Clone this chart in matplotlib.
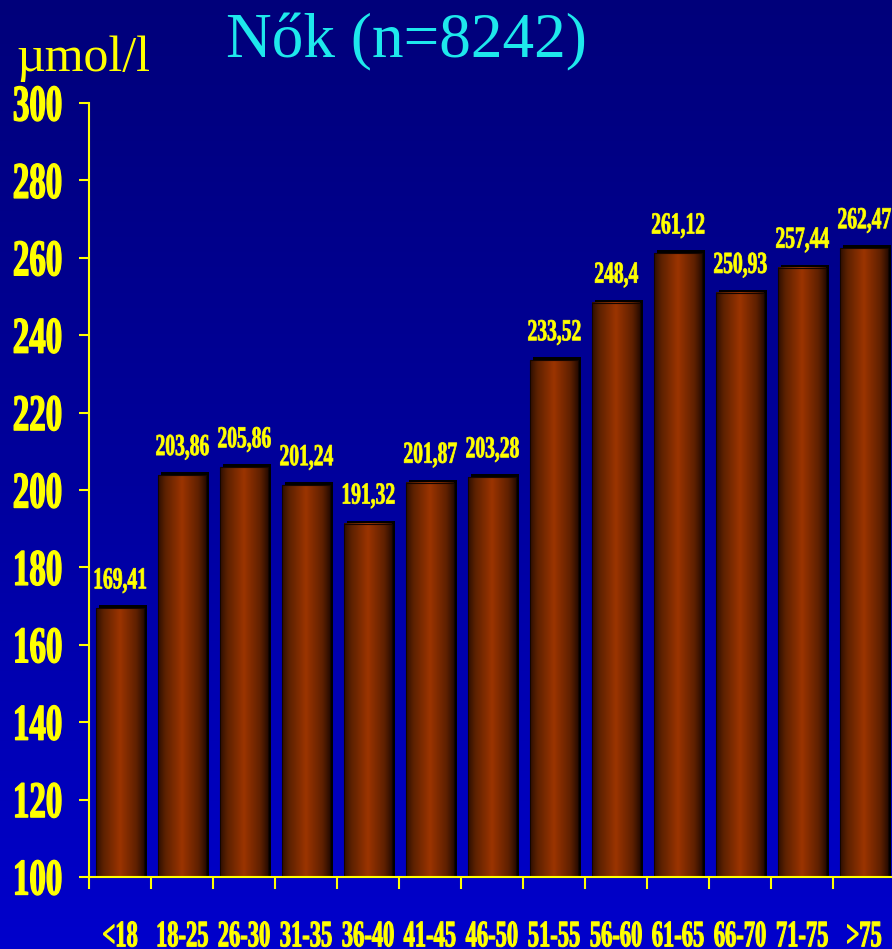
import numpy as np
import matplotlib
matplotlib.use("Agg")
import matplotlib.pyplot as plt
from matplotlib.colors import LinearSegmentedColormap
from matplotlib.patheffects import AbstractPathEffect
from matplotlib.transforms import Affine2D, Bbox, offset_copy
from matplotlib.path import Path
from matplotlib.ticker import FixedLocator, NullFormatter

# ---- data -------------------------------------------------------------
age_groups = ['<18', '18-25', '26-30', '31-35', '36-40', '41-45', '46-50',
              '51-55', '56-60', '61-65', '66-70', '71-75', '>75']
values = [169.41, 203.86, 205.86, 201.24, 191.32, 201.87, 203.28,
          233.52, 248.4, 261.12, 250.93, 257.44, 262.47]
value_labels = [f'{v:g}'.replace('.', ',') for v in values]
y_ticks = list(range(100, 301, 20))
title = 'Nők (n=8242)'
unit = 'µmol/l'

plt.rcParams['font.family'] = ['Liberation Serif', 'DejaVu Serif']


class Condensed(AbstractPathEffect):
    """Squeeze text glyphs horizontally and thicken them slightly
    (narrow heavy face look)."""

    def __init__(self, sx, anchor='center', weight=0.0):
        super().__init__()
        self.sx = sx
        self.anchor = anchor
        self.weight = weight

    def draw_path(self, renderer, gc, tpath, affine, rgbFace=None):
        v = tpath.vertices
        codes = tpath.codes
        if codes is not None:
            v = v[codes != Path.CLOSEPOLY]
        if len(v):
            lo, hi = v[:, 0].min(), v[:, 0].max()
            cx = {'left': lo, 'right': hi}.get(self.anchor, (lo + hi) / 2)
        else:
            cx = 0.0
        squeeze = Affine2D().translate(-cx, 0).scale(self.sx, 1).translate(cx, 0)
        gc0 = renderer.new_gc()
        gc0.copy_properties(gc)
        if self.weight > 0 and rgbFace is not None:
            gc0.set_linewidth(self.weight)
            gc0.set_foreground(rgbFace)
            gc0.set_joinstyle('round')
        renderer.draw_path(gc0, tpath, squeeze + affine, rgbFace)
        gc0.restore()


def condense(text, sx, anchor='center', weight=0.0):
    """Apply the squeeze to a text and report its narrowed footprint."""
    text.set_path_effects([Condensed(sx, anchor, weight)])
    full_extent = text.get_window_extent

    def narrow_extent(renderer=None, dpi=None):
        bb = full_extent(renderer, dpi) if dpi is not None else full_extent(renderer)
        if anchor == 'right':
            ref = bb.x1
        elif anchor == 'left':
            ref = bb.x0
        else:
            ref = (bb.x0 + bb.x1) / 2
        return Bbox([[ref + (bb.x0 - ref) * sx, bb.y0],
                     [ref + (bb.x1 - ref) * sx, bb.y1]])

    text.get_window_extent = narrow_extent


W, H = 892, 949
fig = plt.figure(figsize=(W / 100, H / 100), dpi=100)

# background: vertical blue gradient
bg = fig.add_axes([0, 0, 1, 1], zorder=-10)
bg_cmap = LinearSegmentedColormap.from_list('bg', ['#00007a', '#00009c', '#0000cc'])
bg.imshow(np.linspace(0, 1, 256).reshape(-1, 1), aspect='auto', cmap=bg_cmap,
          extent=[0, 1, 0, 1], origin='upper')
bg.set_axis_off()

ax = fig.add_axes([89 / W, 72 / H, (895 - 89) / W, (877 - 103) / H])
ax.patch.set_visible(False)

x = np.arange(len(values))
bar_w = 0.77

# drop shadow behind the bars
shadow_tf = offset_copy(ax.transData, fig=fig, x=3, y=3, units='dots')
ax.bar(x, values, width=bar_w, color='black', transform=shadow_tf, zorder=2)

bars = ax.bar(x, values, width=bar_w, facecolor='none', edgecolor='#140500',
              linewidth=0.8, zorder=4)

bar_cmap = LinearSegmentedColormap.from_list(
    'bar', [(0.0, '#2e0f00'), (0.15, '#5c2100'), (0.5, '#9c3400'),
            (0.85, '#5e2000'), (1.0, '#2a0c00')])
grad = np.linspace(0, 1, 128).reshape(1, -1)
for b in bars:
    x0, w, top = b.get_x(), b.get_width(), b.get_height()
    ax.imshow(grad, extent=[x0, x0 + w, 100, top], aspect='auto',
              cmap=bar_cmap, zorder=3, interpolation='bicubic')

ax.set_xlim(-0.5, 12.5)
ax.set_ylim(100, 300)

for s in ['top', 'right']:
    ax.spines[s].set_visible(False)
for s in ['left', 'bottom']:
    ax.spines[s].set_color('#ffff00')
    ax.spines[s].set_linewidth(1.5)
    ax.spines[s].set_zorder(5)

# y axis
ax.set_yticks(y_ticks)
ax.set_yticklabels([str(t) for t in y_ticks])
ax.tick_params(axis='y', direction='out', length=7.2, width=1.5, color='#ffff00',
               labelcolor='#ffff00', labelsize=37, pad=11.5)
for lbl in ax.get_yticklabels():
    lbl.set_fontweight('bold')
    condense(lbl, 0.64, 'right', weight=1.0)

# x axis: tick marks between groups, labels under group centres
ax.xaxis.set_major_locator(FixedLocator(np.arange(-0.5, 12, 1.0)))
ax.xaxis.set_major_formatter(NullFormatter())
ax.set_xticks(x, labels=age_groups, minor=True)
ax.tick_params(axis='x', which='major', direction='out', length=8.6, width=1.5,
               color='#ffff00')
ax.tick_params(axis='x', which='minor', length=0, pad=30.5, labelsize=27,
               labelcolor='#ffff00')
for lbl in ax.get_xticklabels(minor=True):
    lbl.set_fontweight('bold')
    condense(lbl, 0.6, 'center', weight=0.75)

# value labels above bars
label_tf = offset_copy(ax.transData, fig=fig, x=0, y=20, units='dots')
for xi, v, s in zip(x, values, value_labels):
    t = ax.text(xi, v, s, transform=label_tf, ha='center', va='baseline',
                fontsize=22, fontweight='bold', color='#ffff00', zorder=6,
                clip_on=False)
    condense(t, 0.64, 'center', weight=0.55)

fig.text(406 / W, 1 - 57 / H, title, ha='center', va='baseline',
         fontsize=45.5, color='#1ee8ec')
fig.text(16 / W, 1 - 71 / H, unit, ha='left', va='baseline',
         fontsize=36, color='#ffff00')

fig.savefig('out.png', dpi=100)
